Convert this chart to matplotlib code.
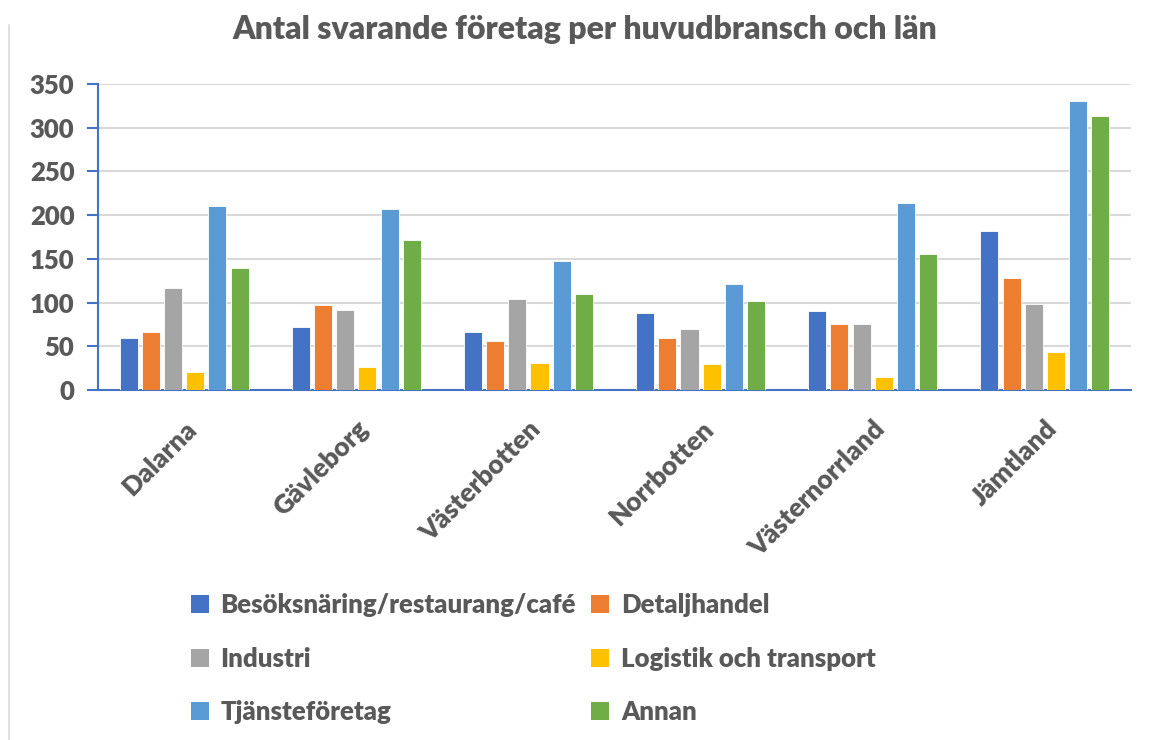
import numpy as np
import matplotlib
matplotlib.use("Agg")
import matplotlib.pyplot as plt
from matplotlib.patches import Patch
from matplotlib.lines import Line2D

plt.rcParams["font.family"] = ["Lato", "DejaVu Sans"]
plt.rcParams["font.weight"] = "heavy"

# ── data ─────────────────────────────────────────────────────────────────────
lan = ["Dalarna", "Gävleborg", "Västerbotten", "Norrbotten", "Västernorrland", "Jämtland"]
series = ["Besöksnäring/restaurang/café", "Detaljhandel", "Industri",
          "Logistik och transport", "Tjänsteföretag", "Annan"]
besok     = [59, 72, 66, 88, 90, 182]
detalj    = [66, 97, 56, 59, 75, 128]
industri  = [117, 92, 104, 70, 76, 98]
logistik  = [21, 26, 31, 30, 15, 43]
tjanste   = [210, 207, 147, 121, 214, 330]
annan     = [139, 172, 110, 102, 155, 313]
values = [besok, detalj, industri, logistik, tjanste, annan]
colors = ["#4472C4", "#ED7D31", "#A5A5A5", "#FFC000", "#5B9BD5", "#70AD47"]

TXT = "#595959"
AXIS = "#4472C4"
W = "heavy"

# ── figure ───────────────────────────────────────────────────────────────────
fig = plt.figure(figsize=(11.49, 7.40), dpi=100)
ax = fig.add_axes([98 / 1149, 1 - 390 / 740, (1131 - 98) / 1149, (390 - 84) / 740])

x = np.arange(len(lan))
slot = 0.129
bw = 0.105
for i, (vals, c) in enumerate(zip(values, colors)):
    ax.bar(x + (i - 2.5) * slot, vals, width=bw, color=c,
           edgecolor="white", linewidth=0.6, zorder=3, label=series[i])

ax.set_xlim(-0.5, len(lan) - 0.5)
ax.set_ylim(0, 350)
ax.set_yticks(range(0, 351, 50))
ax.yaxis.grid(True, color="#D9D9D9", linewidth=1.5, zorder=0)
ax.set_axisbelow(True)

for s in ("top", "right"):
    ax.spines[s].set_visible(False)
for s in ("left", "bottom"):
    ax.spines[s].set_color(AXIS)
    ax.spines[s].set_linewidth(1.5)

ax.tick_params(axis="y", colors=AXIS, length=8, width=1.5, labelsize=18.5,
               labelcolor=TXT, pad=9)
ax.tick_params(axis="x", length=0, labelsize=19, labelcolor=TXT, pad=19)
ax.set_xticks(x)
ax.set_xticklabels(lan, rotation=45, ha="right", rotation_mode="anchor",
                   fontweight=W)
for t in ax.get_yticklabels():
    t.set_fontweight(W)

fig.text(585 / 1149, 1 - 30 / 740, "Antal svarande företag per huvudbransch och län",
         ha="center", va="center", fontsize=23, fontweight=W, color=TXT)

# legend (row-wise order like the original)
order = [0, 2, 4, 1, 3, 5]
handles = [Patch(facecolor=colors[i], edgecolor="none") for i in order]
labels = [series[i] for i in order]
leg = fig.legend(handles, labels, ncol=2, loc="upper left",
                 bbox_to_anchor=(191 / 1149, 1 - 593 / 740), frameon=False,
                 prop={"size": 18.5, "weight": W}, labelcolor=TXT,
                 handlelength=0.7, handleheight=0.7, handletextpad=0.45,
                 columnspacing=0.6, labelspacing=1.15,
                 borderaxespad=0, borderpad=0)

# thin chart-area border on the left
fig.add_artist(Line2D([9 / 1149, 9 / 1149], [0, 1 - 25 / 740],
                      transform=fig.transFigure, color="#D9D9D9", linewidth=1.2))

fig.savefig("out.png", dpi=100)
